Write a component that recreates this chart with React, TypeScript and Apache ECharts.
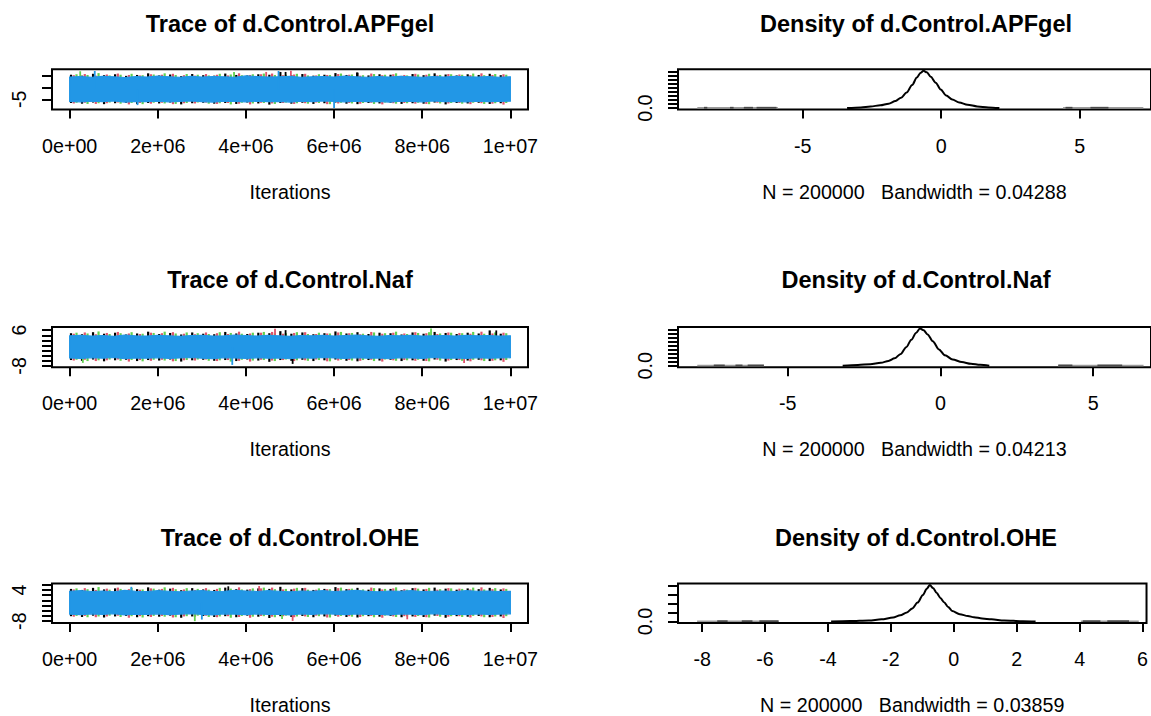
import { useEffect, useRef } from "react";
import * as echarts from "echarts";

const FONT = "'Liberation Sans', Arial, Helvetica, sans-serif";
const AXIS_FONT_SIZE = 19.7;
const TITLE_FONT_SIZE = 23.5;
const CHAIN_COLORS = ["#000000", "#DF536B", "#61D04F", "#2297E6"];

// ---------- shared ----------
const parameters = ["d.Control.APFgel", "d.Control.Naf", "d.Control.OHE"];
const sampleCount = 200000;
const bandwidths = ["0.04288", "0.04213", "0.03859"];
const iterationTicks = [0, 2e6, 4e6, 6e6, 8e6, 1e7];
const iterationTickLabels = ["0e+00", "2e+06", "4e+06", "6e+06", "8e+06", "1e+07"];
const iterationRange = [-4e5, 1.04e7];
const envelopeStep = 250000; // iterations between envelope samples

// ---------- d.Control.APFgel ----------
const apfTraceRange = [-9.45, 7.94];
const apfTraceTicks = [-5, 0, 5];
const apfTraceLabels = [-5];
const apfCenter = -0.6;
const apfBlueHi = [
  4.6, 4.8, 4.5, 4.9, 4.7, 4.4, 4.8, 4.6, 5.0, 4.7,
  4.5, 4.9, 4.6, 4.8, 4.7, 4.5, 5.1, 4.8, 4.6, 4.7,
  4.9, 4.5, 4.7, 4.8, 4.6, 5.0, 4.7, 4.5, 4.8, 4.6,
  4.9, 4.7, 4.5, 4.8, 4.6, 4.9, 4.7, 4.6, 4.8, 4.5,
  4.7,
];
const apfBlueLo = [
  -5.9, -6.1, -5.8, -6.0, -5.7, -6.2, -5.9, -6.0, -5.8, -6.1,
  -5.9, -5.7, -6.0, -6.2, -5.8, -5.9, -6.1, -5.8, -6.0, -5.9,
  -6.2, -5.8, -6.0, -5.7, -5.9, -6.1, -5.8, -6.0, -5.9, -6.2,
  -5.8, -5.9, -6.1, -5.7, -6.0, -5.9, -6.1, -5.8, -6.0, -5.9,
  -5.8,
];
const apfBlackTop = [
  5.6, 5.2, 6.0, 5.4, 5.8, 5.1, 5.5, 6.2, 5.3, 5.7,
  5.0, 5.9, 5.4, 5.2, 6.1, 5.5, 5.3, 5.8, 5.6, 6.8,
  5.4, 5.9, 5.2, 5.6, 6.3, 5.5, 6.5, 5.3, 5.8, 5.6,
  5.1, 5.9, 5.4, 6.2, 5.7, 5.3, 5.8, 5.5, 6.0, 5.4,
];
const apfBlackBot = [
  -6.6, -6.9, -6.4, -7.1, -6.7, -6.5, -7.0, -6.6, -6.8, -6.4,
  -7.2, -6.7, -6.5, -6.9, -6.6, -7.0, -6.4, -6.8, -7.3, -6.6,
  -6.9, -6.5, -7.0, -6.7, -6.4, -6.9, -7.1, -6.6, -6.8, -6.5,
  -7.0, -6.7, -6.9, -6.4, -7.2, -6.6, -6.8, -6.5, -7.0, -6.7,
];
const apfRedTop = [
  5.4, 5.9, 5.2, 5.7, 6.1, 5.5, 5.3, 5.8, 5.6, 6.0,
  5.4, 5.2, 5.9, 5.6, 5.3, 6.2, 5.5, 5.8, 6.1, 5.4,
  5.7, 6.0, 5.3, 5.5, 5.9, 5.6, 5.2, 6.1, 5.4, 5.8,
  5.5, 6.0, 5.6, 5.3, 5.9, 5.7, 5.4, 6.2, 5.5, 5.8,
];
const apfRedBot = [
  -6.8, -6.5, -7.0, -6.7, -6.4, -7.2, -6.6, -6.9, -6.5, -7.1,
  -6.7, -6.8, -6.4, -7.0, -6.6, -6.9, -7.2, -6.5, -6.8, -6.6,
  -7.0, -6.7, -6.4, -7.1, -6.8, -6.6, -6.9, -6.5, -7.2, -6.7,
  -6.6, -6.9, -7.0, -6.5, -6.8, -6.6, -7.1, -6.7, -6.9, -7.3,
];
const apfGreenTop = [
  5.8, 5.5, 6.3, 5.3, 5.6, 6.0, 5.4, 5.7, 6.2, 5.5,
  5.9, 5.6, 5.3, 6.0, 5.7, 5.4, 5.8, 6.1, 5.5, 5.6,
  6.0, 5.3, 5.8, 5.5, 6.1, 5.7, 5.4, 5.9, 5.6, 6.2,
  5.3, 5.7, 6.0, 5.5, 5.8, 5.6, 6.1, 5.4, 5.9, 5.6,
];
const apfGreenBot = [
  -6.5, -7.0, -6.7, -6.4, -6.9, -6.6, -7.1, -6.5, -6.8, -7.0,
  -6.6, -6.4, -6.9, -6.7, -7.2, -6.5, -6.8, -6.6, -7.0, -6.4,
  -6.7, -6.9, -6.6, -7.1, -6.5, -6.8, -6.6, -7.0, -6.4, -6.9,
  -6.7, -6.5, -7.1, -6.8, -6.6, -6.9, -6.5, -7.0, -6.7, -6.6,
];
// [chain, iteration (millions), value]
const apfOutliers = [
  [3, 0.57, 7.2], [3, 1.54, -7.5], [3, 6.0, -8.8], [3, 4.74, 7.2],
  [1, 5.02, 7.3], [1, 4.46, 6.8], [0, 4.9, 6.8], [0, 6.52, 6.6],
  [2, 0.24, 7.1], [2, 3.73, 6.8],
];
const apfDensityRange = [-9.508, 7.577];
const apfDensityTicks = [-5, 0, 5];
const apfDensityPeak = 0.92;
const apfDensityYTicks = [0, 0.1, 0.2, 0.3, 0.4, 0.5, 0.6, 0.7, 0.8, 0.9];
const apfDensity = [
  [-3.4, 0], [-2.9, 0.018], [-2.55, 0.041], [-2.2, 0.069], [-1.9, 0.11],
  [-1.65, 0.175], [-1.45, 0.258], [-1.25, 0.386], [-1.05, 0.57], [-0.88, 0.754],
  [-0.74, 0.874], [-0.64, 0.92], [-0.52, 0.883], [-0.38, 0.773], [-0.2, 0.626],
  [-0.02, 0.46], [0.18, 0.313], [0.4, 0.212], [0.65, 0.138], [0.95, 0.083],
  [1.3, 0.041], [1.7, 0.018], [2.1, 0],
];
const apfRugTails = [[-8.81, -5.9], [4.4, 7.3]];
const apfRugMarks = [[-8.57, -8.45], [-7.63, -7.5], [-7.13, -6.8], [-6.67, -5.95], [4.49, 4.74], [5.39, 6.04]];

// ---------- d.Control.Naf ----------
const nafTraceRange = [-8.54, 7.23];
const nafTraceTicks = [-8, -6, -4, -2, 0, 2, 4, 6];
const nafTraceLabels = [-8, 6];
const nafCenter = -0.6;
const nafBlueHi = [
  3.8, 4.0, 3.7, 3.9, 3.6, 4.1, 3.8, 3.7, 4.0, 3.8,
  3.6, 3.9, 4.0, 3.7, 3.8, 4.1, 3.9, 3.7, 4.0, 3.8,
  3.6, 3.9, 3.8, 4.0, 3.7, 3.9, 4.1, 3.8, 3.6, 3.9,
  3.8, 4.0, 3.7, 3.8, 3.9, 3.7, 4.0, 3.8, 3.9, 3.7,
  3.8,
];
const nafBlueLo = [
  -4.9, -5.1, -4.8, -5.0, -4.7, -5.2, -4.9, -5.0, -4.8, -5.1,
  -4.9, -4.7, -5.0, -5.2, -4.8, -4.9, -5.1, -4.8, -5.0, -4.9,
  -5.2, -4.8, -5.0, -4.7, -4.9, -5.1, -4.8, -5.0, -4.9, -5.2,
  -4.8, -4.9, -5.1, -4.7, -5.0, -4.9, -5.1, -4.8, -5.0, -4.9,
  -4.8,
];
const nafBlackTop = [
  4.8, 4.4, 5.2, 4.6, 5.0, 4.3, 4.7, 5.4, 4.5, 4.9,
  4.3, 5.1, 4.6, 4.4, 5.3, 4.7, 4.5, 5.0, 4.8, 5.6,
  4.6, 5.1, 4.4, 4.8, 5.5, 4.7, 5.2, 4.5, 5.0, 4.8,
  4.3, 5.1, 4.6, 5.3, 4.9, 4.5, 5.0, 4.7, 5.9, 4.6,
];
const nafBlackBot = [
  -5.7, -6.0, -5.5, -6.2, -5.8, -5.6, -6.1, -5.7, -5.9, -5.5,
  -6.3, -5.8, -5.6, -6.0, -5.7, -6.1, -5.5, -5.9, -6.4, -5.7,
  -6.0, -5.6, -6.1, -5.8, -5.5, -6.0, -6.2, -5.7, -5.9, -5.6,
  -6.1, -5.8, -6.0, -5.5, -6.3, -5.7, -5.9, -5.6, -6.1, -5.8,
];
const nafRedTop = [
  4.6, 5.1, 4.4, 4.9, 5.3, 4.7, 4.5, 5.0, 4.8, 5.2,
  4.6, 4.4, 5.1, 4.8, 4.5, 5.4, 4.7, 5.0, 5.3, 4.6,
  4.9, 5.2, 4.5, 4.7, 5.1, 4.8, 4.4, 5.3, 4.6, 5.0,
  4.7, 5.2, 4.8, 4.5, 5.1, 4.9, 4.6, 5.4, 4.7, 5.0,
];
const nafRedBot = [
  -5.9, -5.6, -6.1, -5.8, -5.5, -6.3, -5.7, -6.0, -5.6, -6.2,
  -5.8, -5.9, -5.5, -6.1, -5.7, -6.0, -6.3, -5.6, -5.9, -5.7,
  -6.1, -5.8, -5.5, -6.2, -5.9, -5.7, -6.0, -5.6, -6.3, -5.8,
  -5.7, -6.0, -6.1, -5.6, -5.9, -5.7, -6.2, -5.8, -6.0, -6.4,
];
const nafGreenTop = [
  5.0, 4.7, 5.5, 4.5, 4.8, 5.2, 4.6, 4.9, 5.4, 4.7,
  5.1, 4.8, 4.5, 5.2, 4.9, 4.6, 5.0, 5.3, 4.7, 4.8,
  5.2, 4.5, 5.0, 4.7, 5.3, 4.9, 4.6, 5.1, 4.8, 5.4,
  4.5, 4.9, 5.2, 4.7, 5.0, 4.8, 5.3, 4.6, 5.1, 4.8,
];
const nafGreenBot = [
  -5.6, -6.1, -5.8, -5.5, -6.0, -5.7, -6.2, -5.6, -5.9, -6.1,
  -5.7, -5.5, -6.0, -5.8, -6.3, -5.6, -5.9, -5.7, -6.1, -5.5,
  -5.8, -6.0, -5.7, -6.2, -5.6, -5.9, -5.7, -6.1, -5.5, -6.0,
  -5.8, -5.6, -6.2, -5.9, -5.7, -6.0, -5.6, -6.1, -5.8, -5.7,
];
const nafOutliers = [
  [3, 3.69, -7.6], [0, 5.06, -7.2], [1, 4.66, 6.5], [2, 8.2, 6.6],
  [0, 9.68, 5.9], [1, 8.95, -6.9], [0, 4.9, 6.0], [2, 0.3, -6.8],
];
const nafDensityRange = [-8.591, 6.894];
const nafDensityTicks = [-5, 0, 5];
const nafDensityPeak = 0.92;
const nafDensityYTicks = [0, 0.1, 0.2, 0.3, 0.4, 0.5, 0.6, 0.7, 0.8, 0.9];
const nafDensity = [
  [-3.2, 0], [-2.7, 0.018], [-2.3, 0.041], [-1.95, 0.074], [-1.7, 0.12],
  [-1.5, 0.184], [-1.3, 0.294], [-1.12, 0.46], [-0.95, 0.644], [-0.8, 0.81],
  [-0.67, 0.92], [-0.55, 0.874], [-0.42, 0.773], [-0.25, 0.607], [-0.05, 0.405],
  [0.15, 0.258], [0.4, 0.156], [0.7, 0.092], [1.0, 0.051], [1.3, 0.023], [1.6, 0],
];
const nafRugTails = [[-7.96, -5.78], [3.85, 6.65]];
const nafRugMarks = [[-7.42, -7.06], [-6.71, -6.48], [-6.31, -5.78], [3.86, 4.32], [5.14, 5.95]];

// ---------- d.Control.OHE ----------
const oheTraceRange = [-8.72, 6.44];
const oheTraceTicks = [-8, -6, -4, -2, 0, 2, 4, 6];
const oheTraceLabels = [-8, 4];
const oheCenter = -0.9;
const oheBlueHi = [
  3.5, 3.7, 3.4, 3.6, 3.3, 3.8, 3.5, 3.4, 3.7, 3.5,
  3.3, 3.6, 3.7, 3.4, 3.5, 3.8, 3.6, 3.4, 3.7, 3.5,
  3.3, 3.6, 3.5, 3.7, 3.4, 3.6, 3.8, 3.5, 3.3, 3.6,
  3.5, 3.7, 3.4, 3.5, 3.6, 3.4, 3.7, 3.5, 3.6, 3.4,
  3.5,
];
const oheBlueLo = [
  -5.3, -5.5, -5.2, -5.4, -5.1, -5.6, -5.3, -5.4, -5.2, -5.5,
  -5.3, -5.1, -5.4, -5.6, -5.2, -5.3, -5.5, -5.2, -5.4, -5.3,
  -5.6, -5.2, -5.4, -5.1, -5.3, -5.5, -5.2, -5.4, -5.3, -5.6,
  -5.2, -5.3, -5.5, -5.1, -5.4, -5.3, -5.5, -5.2, -5.4, -5.3,
  -5.2,
];
const oheBlackTop = [
  4.4, 4.0, 4.8, 4.2, 4.6, 3.9, 4.3, 5.0, 4.1, 4.5,
  3.9, 4.7, 4.2, 4.0, 4.9, 4.3, 4.1, 4.6, 4.4, 5.2,
  4.2, 4.7, 4.0, 4.4, 5.1, 4.3, 4.8, 4.1, 4.6, 4.4,
  3.9, 4.7, 4.2, 4.9, 4.5, 4.1, 4.6, 4.3, 4.8, 4.2,
];
const oheBlackBot = [
  -6.1, -6.4, -5.9, -6.6, -6.2, -6.0, -6.5, -6.1, -6.3, -5.9,
  -6.7, -6.2, -6.0, -6.4, -6.1, -6.5, -5.9, -6.3, -6.8, -6.1,
  -6.4, -6.0, -6.5, -6.2, -5.9, -6.4, -6.6, -6.1, -6.3, -6.0,
  -6.5, -6.2, -6.4, -5.9, -6.7, -6.1, -6.3, -6.0, -6.5, -6.2,
];
const oheRedTop = [
  4.2, 4.7, 4.0, 4.5, 4.9, 4.3, 4.1, 4.6, 4.4, 4.8,
  4.2, 4.0, 4.7, 4.4, 4.1, 5.0, 4.3, 4.6, 4.9, 4.2,
  4.5, 4.8, 4.1, 4.3, 4.7, 4.4, 4.0, 4.9, 4.2, 4.6,
  4.3, 4.8, 4.4, 4.1, 4.7, 4.5, 4.2, 5.0, 4.3, 4.6,
];
const oheRedBot = [
  -6.3, -6.0, -6.5, -6.2, -5.9, -6.7, -6.1, -6.4, -6.0, -6.6,
  -6.2, -6.3, -5.9, -6.5, -6.1, -6.4, -6.7, -6.0, -6.3, -6.1,
  -6.5, -6.2, -5.9, -6.6, -6.3, -6.1, -6.4, -6.0, -6.7, -6.2,
  -6.1, -6.4, -6.5, -6.0, -6.3, -6.1, -6.6, -6.2, -6.4, -6.8,
];
const oheGreenTop = [
  4.6, 4.3, 5.1, 4.1, 4.4, 4.8, 4.2, 4.5, 5.0, 4.3,
  4.7, 4.4, 4.1, 4.8, 4.5, 4.2, 4.6, 4.9, 4.3, 4.4,
  4.8, 4.1, 4.6, 4.3, 4.9, 4.5, 4.2, 4.7, 4.4, 5.0,
  4.1, 4.5, 4.8, 4.3, 4.6, 4.4, 4.9, 4.2, 4.7, 4.4,
];
const oheGreenBot = [
  -6.0, -6.5, -6.2, -5.9, -6.4, -6.1, -6.6, -6.0, -6.3, -6.5,
  -6.1, -5.9, -6.4, -6.2, -6.7, -6.0, -6.3, -6.1, -6.5, -5.9,
  -6.2, -6.4, -6.1, -6.6, -6.0, -6.3, -6.1, -6.5, -5.9, -6.4,
  -6.2, -6.0, -6.6, -6.3, -6.1, -6.4, -6.0, -6.5, -6.2, -6.1,
];
const oheOutliers = [
  [2, 2.84, -8.0], [1, 5.06, -7.9], [3, 3.0, -7.4], [1, 7.66, -7.3],
  [2, 4.82, -7.2], [1, 4.3, 5.5], [0, 3.6, 5.4], [3, 1.4, 5.2],
];
const oheDensityRange = [-8.767, 6.127];
const oheDensityTicks = [-8, -6, -4, -2, 0, 2, 4, 6];
const oheDensityPeak = 0.82;
const oheDensityYTicks = [0, 0.2, 0.4, 0.6, 0.8];
const oheDensity = [
  [-3.9, 0], [-3.3, 0.012], [-2.7, 0.025], [-2.3, 0.049], [-1.93, 0.09],
  [-1.7, 0.139], [-1.49, 0.205], [-1.32, 0.295], [-1.15, 0.426], [-0.98, 0.599],
  [-0.86, 0.738], [-0.76, 0.82], [-0.66, 0.754], [-0.54, 0.64], [-0.42, 0.525],
  [-0.31, 0.435], [-0.18, 0.328], [-0.05, 0.238], [0.19, 0.164], [0.45, 0.123],
  [0.64, 0.098], [0.9, 0.07], [1.2, 0.049], [1.6, 0.025], [2.2, 0.008], [2.6, 0],
];
const oheRugTails = [[-8.16, -5.57], [4.04, 5.88]];
const oheRugMarks = [[-7.52, -7.19], [-6.74, -6.4], [-6.18, -5.57], [4.1, 4.66], [4.88, 5.57]];

// ---------- layout ----------
const ROW_TOP = [69.3, 327, 583.6];
const TITLE_Y = [23.7, 280, 537.5];
const PLOT_H = 40.3;
const PLOT_W = 476;
const COL_LEFT = [52, 678];

const panels = [
  {
    traceRange: apfTraceRange, traceTicks: apfTraceTicks, traceLabels: apfTraceLabels, center: apfCenter,
    blueHi: apfBlueHi, blueLo: apfBlueLo,
    tips: [[apfBlackTop, apfBlackBot], [apfRedTop, apfRedBot], [apfGreenTop, apfGreenBot]],
    outliers: apfOutliers,
    densityRange: apfDensityRange, densityTicks: apfDensityTicks, peak: apfDensityPeak,
    densityYTicks: apfDensityYTicks, density: apfDensity, rugTails: apfRugTails, rugMarks: apfRugMarks,
  },
  {
    traceRange: nafTraceRange, traceTicks: nafTraceTicks, traceLabels: nafTraceLabels, center: nafCenter,
    blueHi: nafBlueHi, blueLo: nafBlueLo,
    tips: [[nafBlackTop, nafBlackBot], [nafRedTop, nafRedBot], [nafGreenTop, nafGreenBot]],
    outliers: nafOutliers,
    densityRange: nafDensityRange, densityTicks: nafDensityTicks, peak: nafDensityPeak,
    densityYTicks: nafDensityYTicks, density: nafDensity, rugTails: nafRugTails, rugMarks: nafRugMarks,
  },
  {
    traceRange: oheTraceRange, traceTicks: oheTraceTicks, traceLabels: oheTraceLabels, center: oheCenter,
    blueHi: oheBlueHi, blueLo: oheBlueLo,
    tips: [[oheBlackTop, oheBlackBot], [oheRedTop, oheRedBot], [oheGreenTop, oheGreenBot]],
    outliers: oheOutliers,
    densityRange: oheDensityRange, densityTicks: oheDensityTicks, peak: oheDensityPeak,
    densityYTicks: oheDensityYTicks, density: oheDensity, rugTails: oheRugTails, rugMarks: oheRugMarks,
  },
];

const axisText = { color: "#000", fontFamily: FONT, fontSize: AXIS_FONT_SIZE };
const tickStyle = { color: "#000", width: 2 };

function makeXAxis(gridIndex: number, range: number[], ticks: number[], labels: number[], fmt: (v: number) => string, name: string) {
  return {
    type: "value", gridIndex, min: range[0], max: range[1], position: "bottom",
    axisLine: { show: false, onZero: false },
    splitLine: { show: false },
    axisTick: { show: true, inside: false, customValues: ticks, length: 9, lineStyle: tickStyle },
    axisLabel: { show: true, customValues: labels, formatter: fmt, margin: 26, ...axisText },
    name, nameLocation: "middle", nameGap: 72, nameTextStyle: { ...axisText },
  };
}

function makeYAxis(gridIndex: number, range: number[], ticks: number[], labels: number[], fmt: (v: number) => string) {
  return {
    type: "value", gridIndex, min: range[0], max: range[1], position: "left",
    axisLine: { show: false, onZero: false },
    splitLine: { show: false },
    axisTick: { show: true, inside: false, customValues: ticks, length: 10, lineStyle: tickStyle },
    axisLabel: { show: true, customValues: labels, formatter: fmt, rotate: 90, margin: 23, ...axisText },
  };
}

// vertical segment from value 1 to value 2 at iteration value 0
function segmentSeries(gi: number, items: number[][], color: string, width: number) {
  return {
    type: "custom", xAxisIndex: gi, yAxisIndex: gi, silent: true,
    data: items,
    renderItem: (_p: any, api: any) => {
      const a = api.coord([api.value(0), api.value(1)]);
      const b = api.coord([api.value(0), api.value(2)]);
      return { type: "line", shape: { x1: a[0], y1: a[1], x2: b[0], y2: b[1] }, style: { stroke: color, lineWidth: width } };
    },
  };
}

// horizontal segment between values 0 and 1 at a fixed level
function hSegmentSeries(gi: number, items: number[][], level: number, color: string, width: number) {
  return {
    type: "custom", xAxisIndex: gi, yAxisIndex: gi, silent: true,
    data: items,
    renderItem: (_p: any, api: any) => {
      const a = api.coord([api.value(0), level]);
      const b = api.coord([api.value(1), level]);
      return { type: "line", shape: { x1: a[0], y1: a[1], x2: b[0], y2: b[1] }, style: { stroke: color, lineWidth: width } };
    },
  };
}

// filled envelope of the last chain, one polygon through all envelope samples
function bandSeries(gi: number, hi: number[], lo: number[], color: string) {
  const iters = hi.map((_, i) => i * envelopeStep);
  return {
    type: "custom", xAxisIndex: gi, yAxisIndex: gi, silent: true,
    data: [[iters[0], hi[0], lo[0]]],
    renderItem: (_p: any, api: any) => {
      const pts: number[][] = [];
      for (let i = 0; i < iters.length; i++) pts.push(api.coord([iters[i], hi[i]]));
      for (let i = iters.length - 1; i >= 0; i--) pts.push(api.coord([iters[i], lo[i]]));
      return { type: "polygon", shape: { points: pts }, style: { fill: color, stroke: color, lineWidth: 1.2 } };
    },
  };
}

function buildOption() {
  const grid: any[] = [];
  const xAxis: any[] = [];
  const yAxis: any[] = [];
  const series: any[] = [];
  const graphic: any[] = [];

  const iterLabel = (v: number) => {
    const i = iterationTicks.findIndex((t) => Math.abs(t - v) < 1);
    return i >= 0 ? iterationTickLabels[i] : "";
  };

  panels.forEach((p, r) => {
    const gT = r * 2;
    const gD = r * 2 + 1;
    [gT, gD].forEach((_, c) => {
      grid.push({
        left: COL_LEFT[c], top: ROW_TOP[r], width: PLOT_W, height: PLOT_H,
        show: true, borderColor: "#000", borderWidth: 2, backgroundColor: "transparent",
      });
    });

    // trace axes
    xAxis.push(makeXAxis(gT, iterationRange, iterationTicks, iterationTicks, iterLabel, "Iterations"));
    yAxis.push(makeYAxis(gT, p.traceRange, p.traceTicks, p.traceLabels, (v) => String(v)));
    // density axes
    xAxis.push(makeXAxis(gD, p.densityRange, p.densityTicks, p.densityTicks, (v) => String(v),
      `N = ${sampleCount}   Bandwidth = ${bandwidths[r]}`));
    yAxis.push(makeYAxis(gD, [-0.04 * p.peak, 1.04 * p.peak], p.densityYTicks, [0], (v) => v.toFixed(1)));

    // trace: chains 1-3 as per-bin extremes, drawn under the last chain
    p.tips.forEach(([top, bot], k) => {
      const items = top.map((t, i) => [i * envelopeStep + envelopeStep / 8 + (k * envelopeStep) / 4, t, bot[i]]);
      series.push(segmentSeries(gT, items, CHAIN_COLORS[k], 2.2));
    });
    for (let k = 0; k < 3; k++) {
      const items = p.outliers.filter((o) => o[0] === k).map((o) => [o[1] * 1e6, o[2], p.center]);
      series.push(segmentSeries(gT, items, CHAIN_COLORS[k], 1.8));
    }
    series.push(bandSeries(gT, p.blueHi, p.blueLo, CHAIN_COLORS[3]));
    series.push(segmentSeries(gT,
      p.outliers.filter((o) => o[0] === 3).map((o) => [o[1] * 1e6, o[2], p.center]), CHAIN_COLORS[3], 1.8));

    // density
    const rugLevel = p.peak / 100;
    series.push(hSegmentSeries(gD, p.rugTails, rugLevel, "#9a9a9a", 1.4));
    series.push(hSegmentSeries(gD, p.rugMarks, rugLevel, "#4a4a4a", 1.8));
    series.push({
      type: "line", xAxisIndex: gD, yAxisIndex: gD, silent: true,
      data: p.density, showSymbol: false, smooth: 0.3, smoothMonotone: "x",
      lineStyle: { color: "#000", width: 2 },
    });

    // panel titles
    [`Trace of ${parameters[r]}`, `Density of ${parameters[r]}`].forEach((text, c) => {
      graphic.push({
        type: "text", x: COL_LEFT[c] + PLOT_W / 2, y: TITLE_Y[r], silent: true,
        style: {
          text, fill: "#000", fontFamily: FONT, fontSize: TITLE_FONT_SIZE, fontWeight: "bold",
          align: "center", verticalAlign: "middle", textAlign: "center", textVerticalAlign: "middle",
        },
      });
    });
  });

  return { animation: false, backgroundColor: "#ffffff", grid, xAxis, yAxis, series, graphic };
}

export default function App() {
  const ref = useRef<HTMLDivElement>(null);
  useEffect(() => {
    if (!ref.current) return;
    const chart = echarts.init(ref.current, undefined, { renderer: "svg" });
    chart.setOption(buildOption() as any);
    return () => chart.dispose();
  }, []);
  return (
    <div
      ref={ref}
      style={{ position: "fixed", left: 0, top: 0, width: 1151, height: 716, background: "#fff" }}
    />
  );
}
